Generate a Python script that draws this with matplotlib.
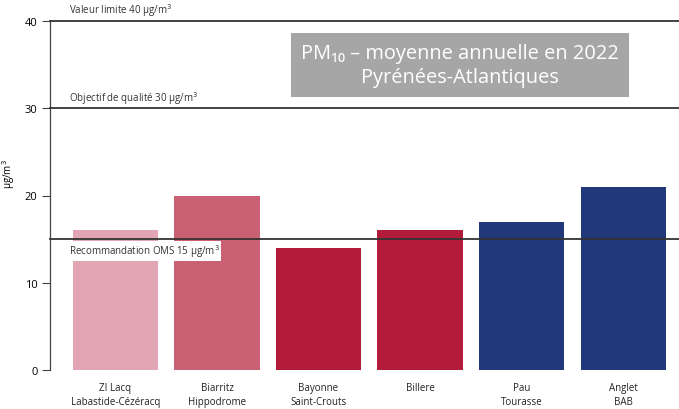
import matplotlib.pyplot as plt

plt.rcParams['font.family'] = ['Open Sans', 'DejaVu Sans']

# Stations and annual mean PM10 (µg/m3)
stations = ["ZI Lacq\nLabastide-Cézéracq", "Biarritz\nHippodrome", "Bayonne\nSaint-Crouts",
            "Billere", "Pau\nTourasse", "Anglet\nBAB"]
values = [16, 20, 14, 16, 17, 21]
colors = ["#E2A5B4", "#C96073", "#B31B3B", "#B31B3B", "#21387A", "#21387A"]

# Thresholds drawn as horizontal lines
limit_values = [40, 30, 15]
limit_labels = ["Valeur limite 40 µg/m$^3$", "Objectif de qualité 30 µg/m$^3$",
                "Recommandation OMS 15 µg/m$^3$"]

fig = plt.figure(figsize=(6.79, 4.10), dpi=100)
ax = fig.add_axes([50 / 679, 1 - 371 / 410, 629 / 679, 349 / 410])

x = range(len(stations))
ax.bar(x, values, width=0.84, color=colors, zorder=2)

for v, lab in zip(limit_values, limit_labels):
    ax.axhline(v, color="#333333", lw=1.3, zorder=3, clip_on=False)
    if v == 15:
        ax.text(-0.46, v - 0.35, lab, fontsize=7, color="#333333", va="top", ha="left",
                zorder=4, bbox=dict(facecolor="white", edgecolor="none", pad=1.2))
    else:
        ax.text(-0.46, v + 0.3, lab, fontsize=7, color="#333333", va="bottom", ha="left", zorder=4)

ax.set_xlim(-0.645, 5.55)
ax.set_ylim(0, 40)
ax.set_yticks([0, 10, 20, 30, 40])
ax.set_xticks(list(x))
ax.set_xticklabels(stations, fontsize=7, color="#222222", linespacing=1.3)
ax.tick_params(axis="x", length=0, pad=9)
ax.tick_params(axis="y", length=6, width=0.8, labelsize=8, color="#444444", pad=3)
ax.set_ylabel("µg/m$^3$", fontsize=7)
ax.yaxis.set_label_coords(-33 / 629, 0.564)

for s in ["top", "right", "bottom"]:
    ax.spines[s].set_visible(False)
ax.spines["left"].set_color("#444444")
ax.spines["left"].set_linewidth(0.9)

fig.text(460 / 679, 1 - 66 / 410, "PM₁₀ – moyenne annuelle en 2022\nPyrénées-Atlantiques",
         ha="center", va="center", fontsize=14.4, color="white", linespacing=1.25,
         bbox=dict(facecolor="#A6A6A6", edgecolor="none", pad=7))

fig.savefig("out.png", dpi=100)
